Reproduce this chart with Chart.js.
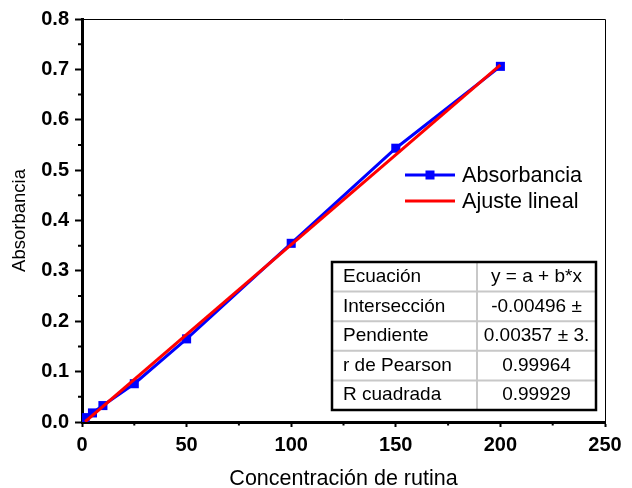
<!DOCTYPE html>
<html><head><meta charset="utf-8">
<script src="https://cdn.jsdelivr.net/npm/chart.js@4.4.1/dist/chart.umd.min.js"></script>
<style>html,body{margin:0;padding:0;background:#fff}#wrap{width:632px;height:488px;position:relative}</style>
</head><body><div id="wrap"><canvas id="c" width="632" height="488"></canvas></div>
<script>
// ---- data ----
const concentrations = [1.5, 5, 10, 25, 50, 100, 150, 200];
const absorbance = [0.0087, 0.018, 0.0326, 0.076, 0.165, 0.3547, 0.5435, 0.706];
const fitX = [1.5, 200];
const fitY = [0.0005, 0.709];
const xTicks = [0, 50, 100, 150, 200, 250];
const xMinorTicks = [25, 75, 125, 175, 225];
const yTicks = [0, 0.1, 0.2, 0.3, 0.4, 0.5, 0.6, 0.7, 0.8];
const yMinorTicks = [0.05, 0.15, 0.25, 0.35, 0.45, 0.55, 0.65, 0.75];
const seriesLabels = ['Absorbancia', 'Ajuste lineal'];
const xTitle = 'Concentración de rutina';
const yTitle = 'Absorbancia';
const tableLabels = ['Ecuación', 'Intersección', 'Pendiente', 'r de Pearson', 'R cuadrada'];
const tableValues = ['y = a + b*x', '-0.00496 ±', '0.00357 ± 3.', '0.99964', '0.99929'];

const FONT = '"Liberation Sans", Arial, sans-serif';
const BLUE = '#0000ff', RED = '#ff0000';

const extras = {
  id: 'extras',
  afterDraw(chart) {
    const ctx = chart.ctx, a = chart.chartArea;
    const xs = chart.scales.x, ys = chart.scales.y;
    ctx.save();
    // top & right frame
    ctx.strokeStyle = '#000'; ctx.lineWidth = 1;
    ctx.beginPath();
    ctx.moveTo(a.left, a.top + 0.5); ctx.lineTo(a.right + 0.5, a.top + 0.5);
    ctx.lineTo(a.right + 0.5, a.bottom);
    ctx.stroke();
    // minor ticks
    ctx.lineWidth = 2;
    ctx.beginPath();
    xMinorTicks.forEach(v => { const p = xs.getPixelForValue(v); ctx.moveTo(p, a.bottom); ctx.lineTo(p, a.bottom + 3.5); });
    yMinorTicks.forEach(v => { const p = ys.getPixelForValue(v); ctx.moveTo(a.left, p); ctx.lineTo(a.left - 4, p); });
    ctx.stroke();

    // legend
    const legend = [{y: 175, color: BLUE, marker: true}, {y: 201, color: RED, marker: false}];
    legend.forEach((it, i) => {
      ctx.strokeStyle = it.color; ctx.lineWidth = 3;
      ctx.beginPath(); ctx.moveTo(405, it.y); ctx.lineTo(455, it.y); ctx.stroke();
      if (it.marker) { ctx.fillStyle = it.color; ctx.fillRect(430 - 4.5, it.y - 4.5, 9, 9); }
      ctx.fillStyle = '#000'; ctx.font = '21.6px ' + FONT;
      ctx.textBaseline = 'middle'; ctx.textAlign = 'left';
      ctx.fillText(seriesLabels[i], 462, it.y + 1);
    });

    // table
    const L = 332, T = 262, R = 596, B = 410, D = 477;
    const rh = (B - T) / tableLabels.length;
    ctx.fillStyle = '#fff'; ctx.fillRect(L, T, R - L, B - T);
    ctx.strokeStyle = '#c8c8c8'; ctx.lineWidth = 2;
    ctx.beginPath();
    for (let i = 1; i < tableLabels.length; i++) { const y = T + rh * i; ctx.moveTo(L, y); ctx.lineTo(R, y); }
    ctx.moveTo(D, T); ctx.lineTo(D, B);
    ctx.stroke();
    ctx.strokeStyle = '#000'; ctx.lineWidth = 2.5;
    ctx.strokeRect(L, T, R - L, B - T);
    ctx.fillStyle = '#000'; ctx.font = '19px ' + FONT; ctx.textBaseline = 'middle';
    tableLabels.forEach((t, i) => {
      const y = T + rh * i + rh / 2;
      ctx.textAlign = 'left'; ctx.fillText(t, L + 11, y);
      ctx.textAlign = 'center'; ctx.fillText(tableValues[i], (D + R) / 2, y);
    });
    ctx.restore();
  }
};

new Chart(document.getElementById('c'), {
  type: 'scatter',
  data: {
    datasets: [
      {
        label: seriesLabels[0],
        data: concentrations.map((x, i) => ({x, y: absorbance[i]})),
        showLine: true, borderColor: BLUE, backgroundColor: BLUE, borderWidth: 3,
        pointStyle: 'rect', pointRadius: 6.4, pointBorderWidth: 0, pointBackgroundColor: BLUE,
        order: 2
      },
      {
        label: seriesLabels[1],
        data: fitX.map((x, i) => ({x, y: fitY[i]})),
        showLine: true, borderColor: RED, backgroundColor: RED, borderWidth: 3,
        pointRadius: 0, order: 1
      }
    ]
  },
  options: {
    responsive: false, animation: false,
    layout: {padding: {left: 0, top: 19, right: 27, bottom: 0}},
    plugins: {legend: {display: false}, tooltip: {enabled: false}},
    scales: {
      x: {
        type: 'linear', min: 0, max: 250,
        afterBuildTicks: s => { s.ticks = xTicks.map(v => ({value: v})); },
        afterFit: s => { s.height = 66; },
        ticks: {color: '#000', font: {family: FONT, size: 20, weight: 'bold'}, padding: 6, maxRotation: 0},
        grid: {drawOnChartArea: false, drawTicks: true, tickLength: 5, tickWidth: 2, tickColor: '#000'},
        border: {display: true, color: '#000', width: 3},
        title: {display: true, text: xTitle, color: '#000', font: {family: FONT, size: 21.5, lineHeight: 1}, padding: {top: 0, bottom: -2}}
      },
      y: {
        type: 'linear', min: 0, max: 0.8,
        afterBuildTicks: s => { s.ticks = yTicks.map(v => ({value: v})); },
        afterFit: s => { s.width = 82; },
        ticks: {color: '#000', font: {family: FONT, size: 20, weight: 'bold'}, padding: 6, callback: v => v.toFixed(1)},
        grid: {drawOnChartArea: false, drawTicks: true, tickLength: 7, tickWidth: 2, tickColor: '#000'},
        border: {display: true, color: '#000', width: 3},
        title: {display: true, text: yTitle, color: '#000', font: {family: FONT, size: 18.5, lineHeight: 1}, padding: {top: 11, bottom: 0}}
      }
    }
  },
  plugins: [extras]
});
</script></body></html>
